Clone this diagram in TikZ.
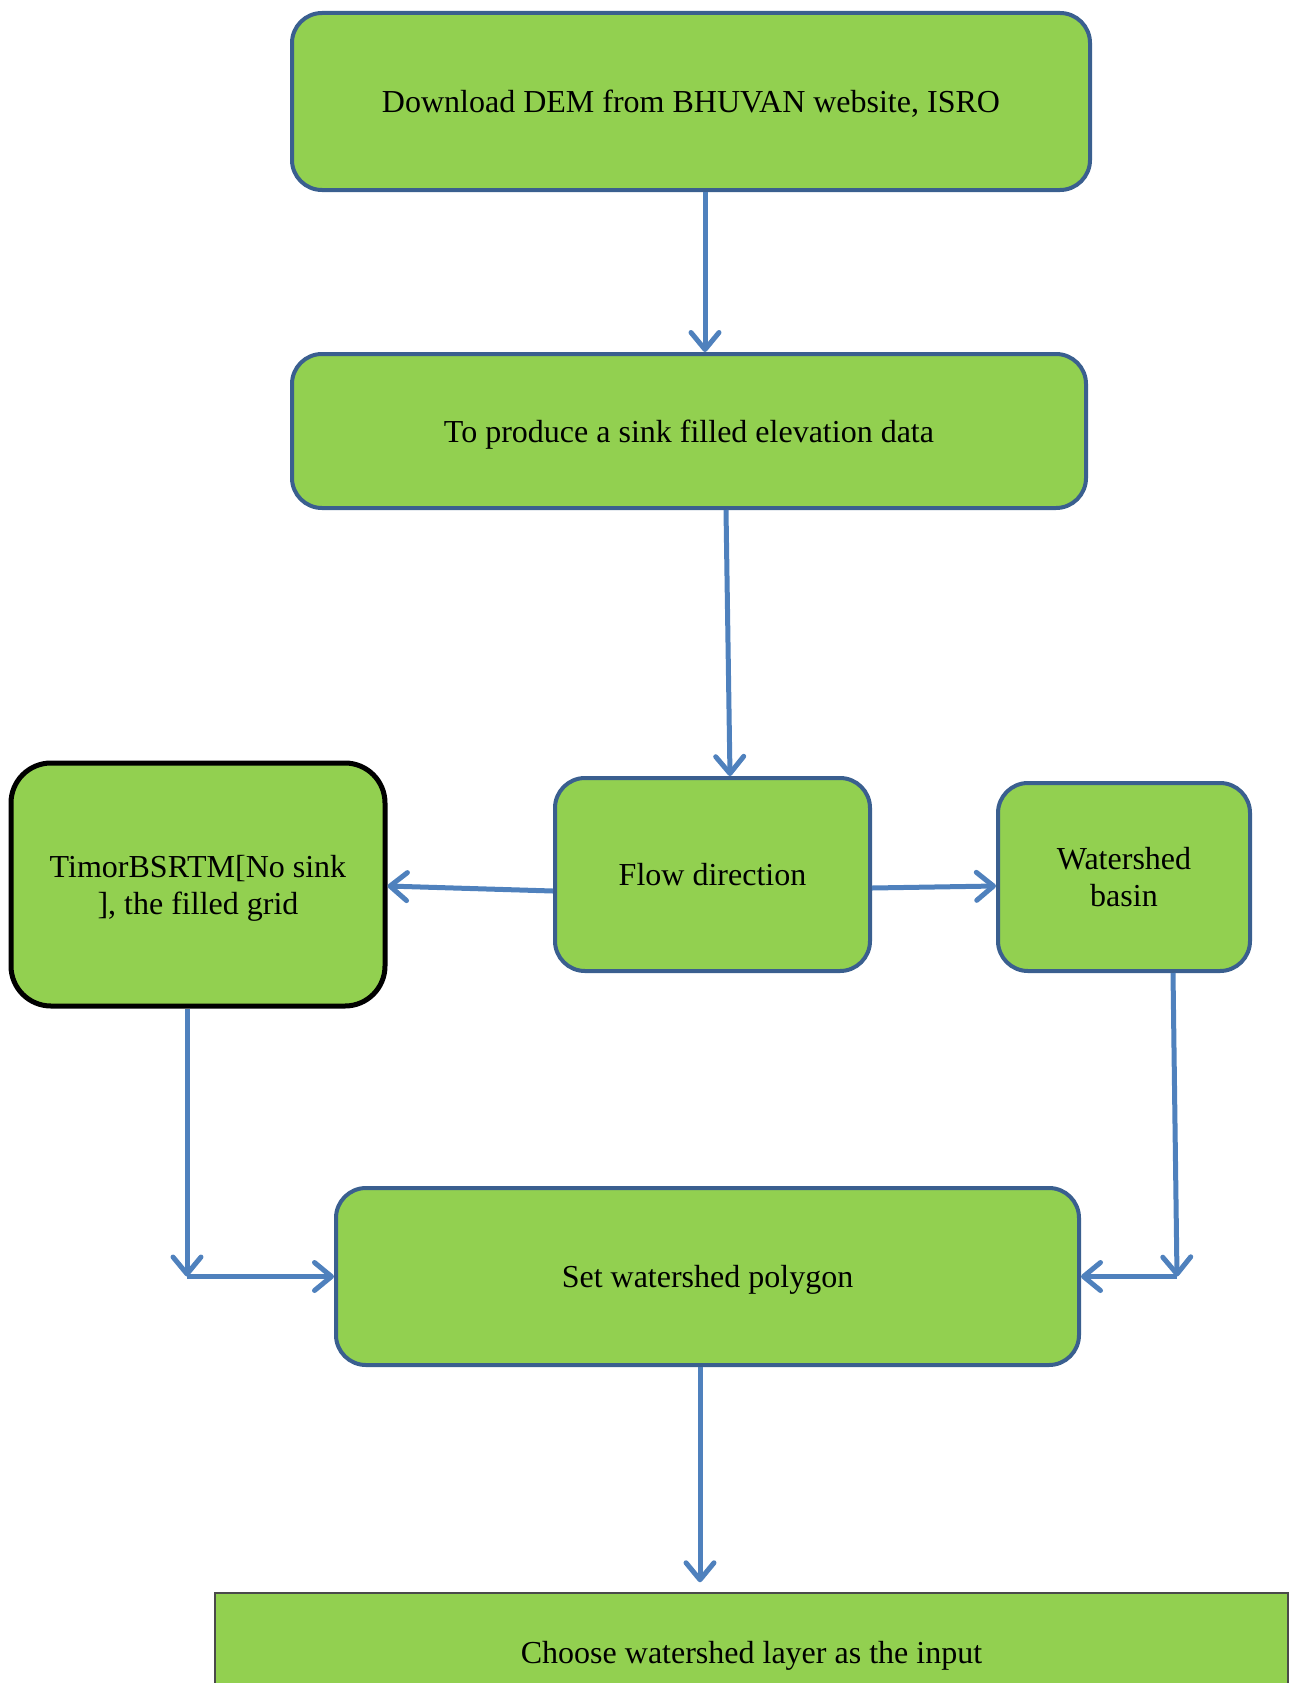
\documentclass[tikz,border=0pt]{standalone}
\usepackage{fontspec}
\setmainfont{Liberation Serif}
\usetikzlibrary{arrows.meta,calc}
\definecolor{boxgreen}{HTML}{92D050}
\definecolor{boxblue}{HTML}{3A5F8F}
\definecolor{arrowblue}{HTML}{4F81BD}
\definecolor{edgegray}{HTML}{4A4A4A}
\tikzset{
  stepbox/.style={draw=boxblue, line width=4pt, fill=boxgreen, rounded corners=30pt,
    align=center, inner sep=0pt, text height=22pt, text depth=0pt,
    font=\fontsize{32}{37}\selectfont},
  twoline/.style={text height=59pt, text depth=0pt},
  flowarrow/.style={draw=arrowblue, line width=5pt,
    -{Straight Barb[length=17pt,width=28pt,line cap=round,line join=round]}}
}
\begin{document}
\begin{tikzpicture}[x=1pt,y=-1pt]
\useasboundingbox (0,0) rectangle (1293,1683);

\node[stepbox, minimum width=798pt, minimum height=177pt] (dem) at (691,101.5)
  {Download DEM from BHUVAN website, ISRO};
\node[stepbox, minimum width=794pt, minimum height=154pt] (fill) at (689,431)
  {To produce a sink filled elevation data};
\node[stepbox, minimum width=315pt, minimum height=193pt] (flow) at (712.5,874.5)
  {Flow direction};
\node[stepbox, twoline, draw=black, line width=5pt, rounded corners=40pt,
      minimum width=374pt, minimum height=243pt] (grid) at (198,884.5)
  {TimorBSRTM[No sink\\], the filled grid};
\node[stepbox, twoline, minimum width=252pt, minimum height=188pt] (basin) at (1124,877)
  {Watershed\\basin};
\node[stepbox, minimum width=743pt, minimum height=177pt] (poly) at (707.5,1276.5)
  {Set watershed polygon};
\node[stepbox, draw=edgegray, line width=1.5pt, rounded corners=0pt,
      minimum width=1073pt, minimum height=118pt] (layer) at (751.5,1652)
  {Choose watershed layer as the input};

% junction points beside the polygon box
\coordinate (lj) at ([xshift=-11pt]grid.south |- poly.west);
\coordinate (rj) at ([xshift=53pt]basin.south |- poly.east);

\draw[flowarrow] ([xshift=14pt]dem.south) -- ([xshift=16pt]fill.north);
\draw[flowarrow] ([xshift=37pt]fill.south) -- ([xshift=17.5pt]flow.north);
\draw[flowarrow] ([yshift=-16.5pt]flow.west) -- ([yshift=-1.5pt]grid.east);
\draw[flowarrow] ([yshift=-13.5pt]flow.east) -- ([yshift=-9pt]basin.west);
\draw[flowarrow] ([xshift=-11pt]grid.south) -- (lj);
\draw[flowarrow] (lj) -- (poly.west);
\draw[flowarrow] ([xshift=49pt]basin.south) -- (rj);
\draw[flowarrow] (rj) -- (poly.east);
\draw[flowarrow] ([xshift=-7.5pt]poly.south) -- ([xshift=-51.5pt,yshift=10pt]layer.north);
\end{tikzpicture}
\end{document}
